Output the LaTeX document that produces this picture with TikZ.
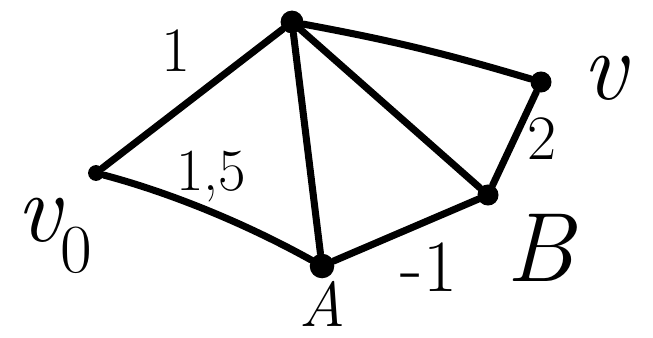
\documentclass[tikz,border=0pt]{standalone}
\usepackage{fontspec}
\begin{document}
\begin{tikzpicture}[x=0.02cm,y=-0.02cm,
    dot/.style={circle,fill,inner sep=0pt,minimum size=#1},
    big/.style={font=\fontsize{#1}{#1}\selectfont\itshape}]
  \useasboundingbox (0,0) rectangle (653,338);
  \node[dot=9pt] (V0) at (96,173) {};
  \node[dot=13pt] (T) at (292,22) {};
  \node[dot=12pt] (V) at (541,82) {};
  \node[dot=12pt] (B) at (488,195) {};
  \node[dot=14pt] (A) at (322,266) {};
  \begin{scope}[line width=4pt,line cap=round]
    \draw (V0) -- (T) node[above left,pos=0.5,big=36,yshift=10pt,xshift=4pt] {\upshape 1};
    \draw (V0) .. controls (175,194) and (250,226) .. (A) node[big=34,pos=0.5,above] {\upshape 1,5};
    \draw (T) -- (A);
    \draw (T) -- (B);
    \draw (T) to[bend left=3] (V);
    \draw (V) -- (B) node[right,pos=0.5,big=36,xshift=2pt] {\upshape 2};
    \draw (A) -- (B) node[below right,pos=0.45,big=42,xshift=-4pt] {\upshape -1};
  \end{scope}
  \node[big=56] (lv0) at (55,236) {v\textsubscript{\upshape 0}};
  \node[big=56] (lv) at (605,78) {v};
  \node[big=56] (lb) at (540,248) {B};
  \node[big=36,inner sep=0pt] (la) at (322,304) {A};
\end{tikzpicture}
\end{document}
